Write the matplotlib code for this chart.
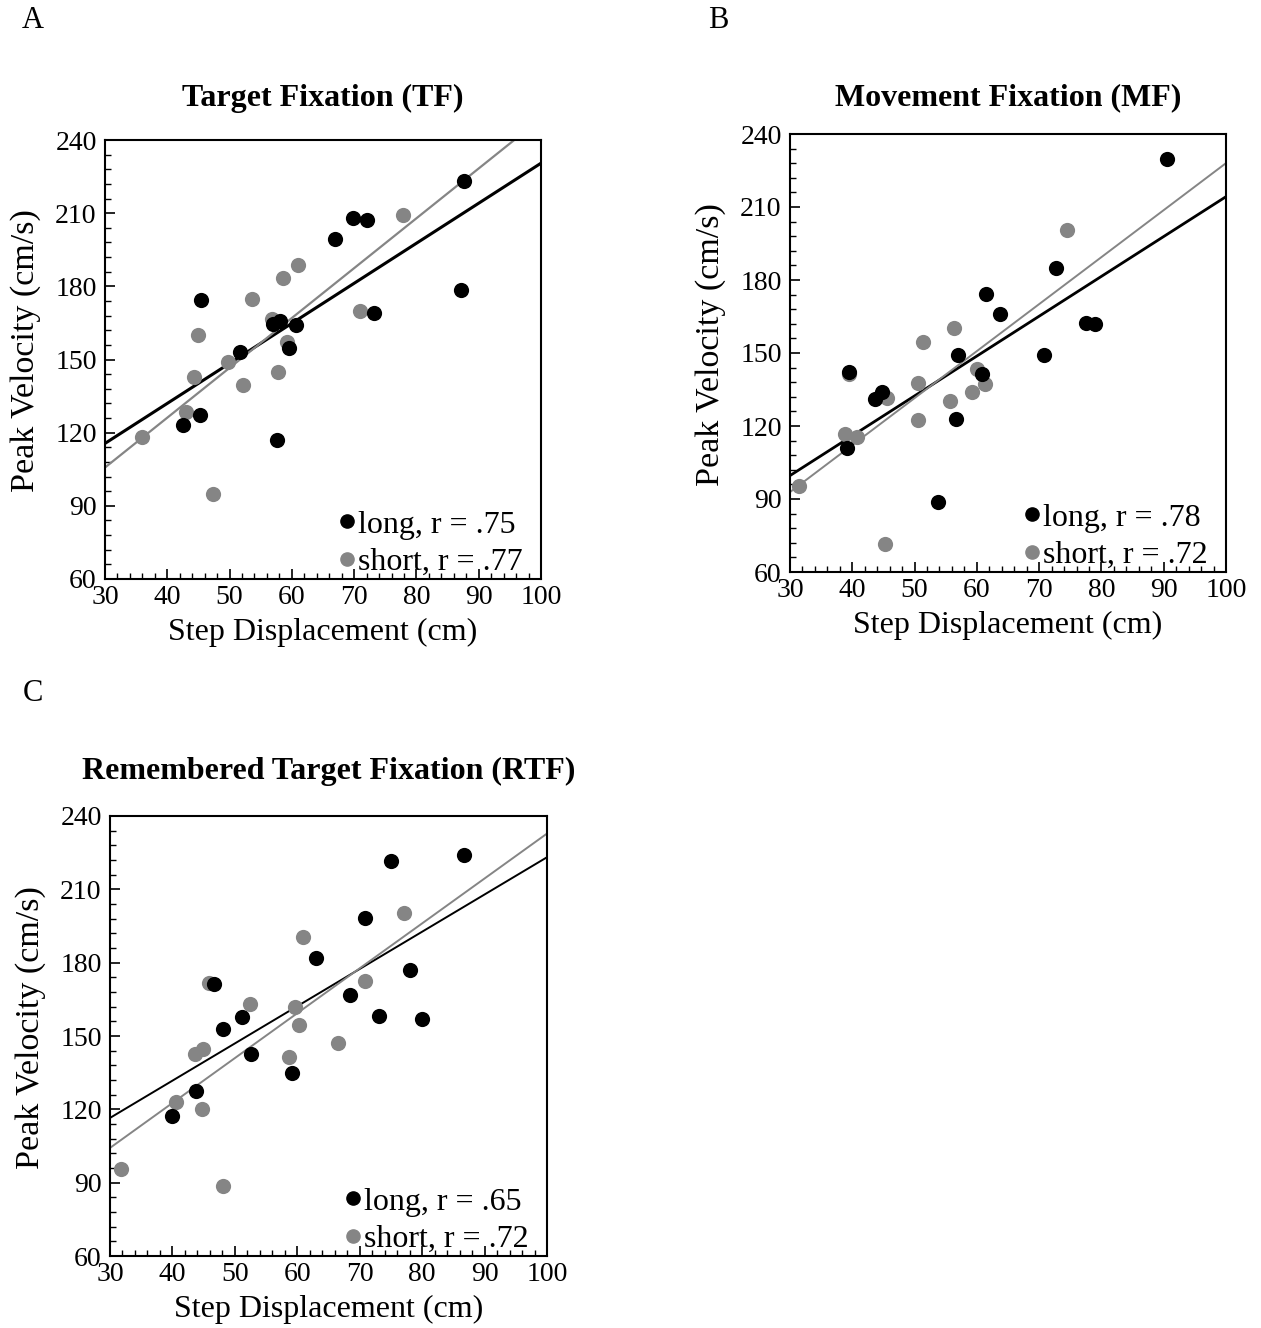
import numpy as np
import matplotlib
matplotlib.use('Agg')
from matplotlib import pyplot as plt
from matplotlib.ticker import MultipleLocator

plt.rcParams['font.family'] = ['Liberation Serif', 'DejaVu Serif']

# --- data (x: step displacement cm, y: peak velocity cm/s) ---
tf_long_x = [87.6, 69.8, 72.1, 66.9, 45.4, 87.1, 73.2, 57.0, 58.1, 60.7, 51.7, 59.5, 45.2, 42.5, 57.6]
tf_long_y = [223.2, 208.0, 207.2, 199.4, 174.4, 178.5, 169.0, 164.5, 165.8, 164.0, 153.0, 154.7, 127.2, 123.1, 117.0]
tf_short_x = [77.8, 61.0, 58.6, 53.6, 70.9, 44.9, 56.8, 59.2, 49.7, 44.3, 57.8, 52.2, 43.0, 36.0, 47.3]
tf_short_y = [209.3, 188.7, 183.4, 174.8, 169.9, 160.0, 166.6, 157.2, 149.0, 142.8, 145.0, 139.5, 128.5, 118.2, 94.8]

mf_long_x = [90.5, 72.7, 61.5, 63.7, 77.5, 79.0, 57.0, 70.8, 39.5, 44.8, 43.6, 60.8, 56.6, 39.2, 53.8]
mf_long_y = [229.7, 185.1, 174.4, 166.0, 162.3, 161.9, 149.2, 149.2, 142.2, 134.0, 131.1, 141.4, 122.9, 111.0, 88.8]
mf_short_x = [74.5, 56.3, 51.4, 39.5, 45.6, 50.5, 60.0, 61.3, 59.2, 55.7, 50.5, 38.8, 40.8, 31.4, 45.2]
mf_short_y = [200.6, 160.3, 154.6, 141.4, 131.5, 137.7, 143.4, 137.3, 134.0, 130.3, 122.5, 116.7, 115.5, 95.4, 71.4]

rtf_long_x = [86.7, 75.0, 70.8, 63.0, 78.1, 46.7, 68.4, 73.1, 80.0, 51.1, 48.1, 52.6, 59.2, 43.8, 39.9]
rtf_long_y = [224.1, 221.7, 198.3, 181.9, 177.0, 171.3, 166.6, 158.2, 156.8, 157.6, 152.8, 142.8, 134.7, 127.6, 117.1]
rtf_short_x = [77.1, 60.9, 70.8, 45.9, 52.4, 59.6, 60.3, 66.5, 58.7, 43.6, 44.9, 40.6, 44.7, 31.8, 48.1]
rtf_short_y = [200.3, 190.5, 172.7, 171.5, 162.9, 162.0, 154.3, 147.2, 141.4, 142.6, 144.6, 122.8, 120.1, 95.6, 88.6]

titles = ['Target Fixation (TF)', 'Movement Fixation (MF)', 'Remembered Target Fixation (RTF)']
letters = ['A', 'B', 'C']
r_long = ['.75', '.78', '.65']
r_short = ['.77', '.72', '.72']

BLACK = '#000000'
GRAY = '#858585'

fig = plt.figure(figsize=(12.61, 13.28), dpi=100)

# axes rectangles in figure fractions
rects = [
    [105 / 1261, 1 - 579 / 1328, 436 / 1261, 439 / 1328],
    [790 / 1261, 1 - 572 / 1328, 436 / 1261, 438 / 1328],
    [110 / 1261, 1 - 1256 / 1328, 437 / 1261, 440 / 1328],
]
letter_pos = [(33 / 1261, 1 - 20 / 1328), (718 / 1261, 1 - 20 / 1328), (33 / 1261, 1 - 693 / 1328)]
title_pad = [24.8, 21, 27]
line_w = [(2.2, 1.6), (2.0, 1.4), (1.4, 1.4)]

panels = [
    (tf_long_x, tf_long_y, tf_short_x, tf_short_y),
    (mf_long_x, mf_long_y, mf_short_x, mf_short_y),
    (rtf_long_x, rtf_long_y, rtf_short_x, rtf_short_y),
]

xs = np.linspace(30, 100, 50)
for i, (lx, ly, sx, sy) in enumerate(panels):
    ax = fig.add_axes(rects[i])

    # regression lines from the data
    b1 = np.polyfit(lx, ly, 1)
    b2 = np.polyfit(sx, sy, 1)
    ax.plot(xs, np.polyval(b1, xs), color=BLACK, lw=line_w[i][0], zorder=2)
    ax.plot(xs, np.polyval(b2, xs), color=GRAY, lw=line_w[i][1], zorder=2)

    ax.scatter(sx, sy, s=120, color=GRAY, lw=0, zorder=3)
    ax.scatter(lx, ly, s=120, color=BLACK, lw=0, zorder=4)

    # legend handles
    ax.plot([], [], 'o', color=BLACK, ms=9.5, label='long, r = ' + r_long[i])
    ax.plot([], [], 'o', color=GRAY, ms=9.5, label='short, r = ' + r_short[i])
    ax.legend(loc='lower right', bbox_to_anchor=(1 - 18 / 436, 2 / 439),
              frameon=False, fontsize=23, handlelength=0.4,
              handletextpad=0.15, borderaxespad=0.0, labelspacing=0.25,
              borderpad=0.0)

    ax.set_xlim(30, 100)
    ax.set_ylim(60, 240)
    ax.xaxis.set_major_locator(MultipleLocator(10))
    ax.xaxis.set_minor_locator(MultipleLocator(2))
    ax.yaxis.set_major_locator(MultipleLocator(30))
    ax.yaxis.set_minor_locator(MultipleLocator(6))
    ax.tick_params(which='both', direction='in', top=False, right=False,
                   labelsize=20)
    ax.tick_params(axis='x', pad=4)
    ax.tick_params(axis='y', pad=6)
    ax.tick_params(which='major', length=7, width=1.2)
    ax.tick_params(which='minor', length=4, width=1.0)
    for sp in ax.spines.values():
        sp.set_linewidth(1.5)

    ax.set_xlabel('Step Displacement (cm)', fontsize=23, labelpad=6)
    ax.set_ylabel('Peak Velocity (cm/s)', fontsize=24.5)
    ax.yaxis.set_label_coords(-0.147, 0.52)
    ax.set_title(titles[i], fontsize=23, fontweight='bold', pad=title_pad[i])

    fig.text(letter_pos[i][0], letter_pos[i][1], letters[i], fontsize=22,
             ha='center', va='center')

fig.savefig('out.png', dpi=100)
